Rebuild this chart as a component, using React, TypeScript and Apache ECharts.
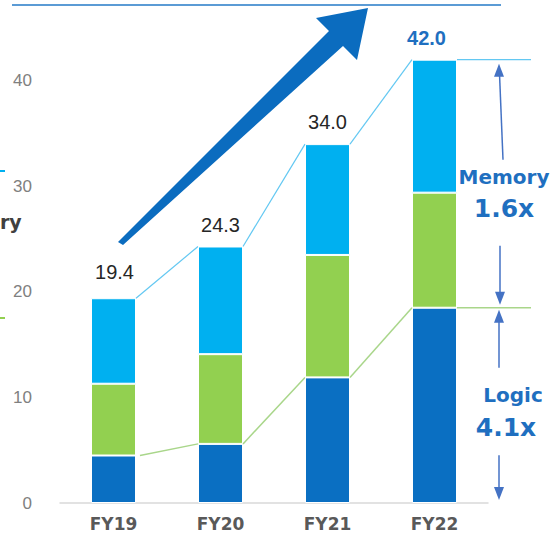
import React, { useEffect, useRef } from "react";
import * as echarts from "echarts";

const categories = ["FY19", "FY20", "FY21", "FY22"];
const logicValues = [4.5, 5.6, 11.9, 18.5];
const memoryGreenValues = [6.8, 8.5, 11.6, 10.9];
const memoryBlueValues = [8.1, 10.2, 10.5, 12.6];
const totals = [19.4, 24.3, 34.0, 42.0];
const memoryGrowth = "1.6x";
const logicGrowth = "4.1x";

const C_DARK = "#0a6fc2";
const C_GREEN = "#92d050";
const C_LIGHT = "#00b0f0";
const C_TEXT_BLUE = "#1f6fc0";
const C_ARROW = "#4472c4";
const BAR_W = 45;

export default function App() {
  const ref = useRef<HTMLDivElement>(null);

  useEffect(() => {
    if (!ref.current) return;
    const chart = echarts.init(ref.current, null, { renderer: "svg" });
    const half = BAR_W / 2;
    const n = categories.length;

    const connectorData = categories.map((_, i) => [i, totals[i], logicValues[i]]);

    const arrowHead = (x: number, tipY: number, dir: number) => ({
      type: "polygon",
      shape: { points: [[x, tipY], [x - 5, tipY + dir * 13], [x + 5, tipY + dir * 13]] },
      style: { fill: C_ARROW },
    });
    const vline = (x1: number, y1: number, x2: number, y2: number) => ({
      type: "line",
      shape: { x1, y1, x2, y2 },
      style: { stroke: C_ARROW, lineWidth: 1.5 },
    });
    const txt = (text: string, x: number, y: number, size: number) => ({
      type: "text",
      style: {
        text,
        x,
        y,
        fill: C_TEXT_BLUE,
        fontSize: size,
        fontWeight: "bold",
        fontFamily: "DejaVu Sans",
        align: "center",
        verticalAlign: "middle",
      },
    });

    const option: any = {
      animation: false,
      grid: { left: 60, right: 64, top: 28, bottom: 35 },
      xAxis: {
        type: "category",
        data: categories,
        axisTick: { show: false },
        axisLine: { lineStyle: { color: "#d9d9d9", width: 1.5 } },
        axisLabel: {
          margin: 12,
          color: "#595959",
          fontSize: 17,
          fontWeight: "bold",
          fontFamily: "DejaVu Sans",
        },
      },
      yAxis: {
        type: "value",
        min: 0,
        max: 45,
        interval: 10,
        splitLine: { show: false },
        axisLine: { show: false },
        axisTick: { show: false },
        axisLabel: {
          margin: 28,
          color: "#808080",
          fontSize: 17,
          fontFamily: "Liberation Sans",
          showMaxLabel: false,
          formatter: (v: number) => (v === 45 ? "" : String(v)),
        },
      },
      series: [
        {
          name: "Logic",
          type: "bar",
          stack: "total",
          barWidth: BAR_W,
          data: logicValues,
          itemStyle: { color: C_DARK, borderColor: "#fff", borderWidth: 1 },
        },
        {
          name: "Memory A",
          type: "bar",
          stack: "total",
          barWidth: BAR_W,
          data: memoryGreenValues,
          itemStyle: { color: C_GREEN, borderColor: "#fff", borderWidth: 1 },
        },
        {
          name: "Memory B",
          type: "bar",
          stack: "total",
          barWidth: BAR_W,
          data: memoryBlueValues.map((v, i) =>
            i === n - 1
              ? {
                  value: v,
                  label: {
                    color: C_TEXT_BLUE,
                    fontWeight: "bold",
                    offset: [-8, 0],
                  },
                }
              : i === 0
              ? { value: v, label: { offset: [1, -4] } }
              : v
          ),
          itemStyle: { color: C_LIGHT, borderColor: "#fff", borderWidth: 1 },
          label: {
            show: true,
            position: "top",
            distance: 12,
            color: "#262626",
            fontSize: 20,
            fontFamily: "Liberation Sans",
            formatter: (p: any) => totals[p.dataIndex].toFixed(1),
          },
        },
        {
          name: "connectors",
          type: "custom",
          silent: true,
          clip: false,
          z: 1,
          encode: { x: 0, y: 1 },
          data: connectorData,
          renderItem: (params: any, api: any) => {
            const i = api.value(0);
            const pT = api.coord([i, api.value(1)]);
            const pL = api.coord([i, api.value(2)]);
            let qT: number[], qL: number[];
            if (i < n - 1) {
              const a = api.coord([i + 1, totals[i + 1]]);
              const b = api.coord([i + 1, logicValues[i + 1]]);
              qT = [a[0] - half, a[1]];
              qL = [b[0] - half, b[1]];
            } else {
              qT = [pT[0] + half + 74, pT[1]];
              qL = [pL[0] + half + 74, pL[1]];
            }
            return {
              type: "group",
              children: [
                {
                  type: "line",
                  shape: { x1: pT[0] + half, y1: pT[1], x2: qT[0], y2: qT[1] },
                  style: { stroke: "#63c8f2", lineWidth: 1.2 },
                },
                {
                  type: "line",
                  shape: { x1: pL[0] + half + (i === 0 ? 4 : 0), y1: pL[1], x2: qL[0], y2: qL[1] },
                  style: { stroke: "#a9d68a", lineWidth: 1.5 },
                },
              ],
            };
          },
        },
        {
          name: "annotations",
          type: "custom",
          silent: true,
          clip: false,
          encode: { x: 0, y: 1 },
          data: [[n - 1, totals[n - 1], logicValues[n - 1]]],
          renderItem: (params: any, api: any) => {
            const i = api.value(0);
            const top = api.coord([i, api.value(1)]);
            const mid = api.coord([i, api.value(2)]);
            const base = api.coord([i, 0]);
            const x = top[0] + half + 42;
            const memMid = (top[1] + mid[1]) / 2;
            const logMid = (mid[1] + base[1]) / 2;
            return {
              type: "group",
              children: [
                vline(x + 4, memMid - 24, x + 0.5, top[1] + 14),
                arrowHead(x, top[1] + 4, 1),
                txt("Memory", x + 5, memMid - 7, 20),
                txt(memoryGrowth, x + 5, memMid + 25, 25),
                vline(x + 1, memMid + 62, x + 1, mid[1] - 14),
                arrowHead(x + 1, mid[1] - 3, -1),
                arrowHead(x, mid[1] + 2, 1),
                vline(x, mid[1] + 12, x, mid[1] + 60),
                txt("Logic", x + 14, logMid - 10, 20),
                txt(logicGrowth, x + 7, logMid + 22, 25),
                vline(x, logMid + 50, x, base[1] - 14),
                arrowHead(x, base[1] - 3, -1),
              ],
            };
          },
        },
      ],
      graphic: [
        {
          type: "line",
          shape: { x1: 12, y1: 5, x2: 501, y2: 5 },
          style: { stroke: "#5b9bd5", lineWidth: 2 },
          silent: true,
        },
        {
          type: "polygon",
          shape: {
            points: [
              [118, 242],
              [329, 31],
              [316, 18],
              [368, 8],
              [357, 60],
              [343, 46],
              [123, 245],
            ],
          },
          style: { fill: "#0b6cbf" },
          silent: true,
        },
        {
          type: "line",
          shape: { x1: 0, y1: 171, x2: 5, y2: 171 },
          style: { stroke: C_LIGHT, lineWidth: 2 },
          silent: true,
        },
        {
          type: "line",
          shape: { x1: 0, y1: 318, x2: 5, y2: 318 },
          style: { stroke: C_GREEN, lineWidth: 2 },
          silent: true,
        },
        {
          type: "text",
          x: 0,
          y: 222,
          style: {
            text: "ry",
            fill: "#404040",
            fontSize: 19,
            fontWeight: "bold",
            fontFamily: "DejaVu Sans",
            align: "left",
            verticalAlign: "middle",
          },
          silent: true,
        },
      ],
    };

    chart.setOption(option);
    return () => chart.dispose();
  }, []);

  return (
    <div
      ref={ref}
      style={{ position: "fixed", left: 0, top: 0, width: 552, height: 538, background: "#fff" }}
    />
  );
}
